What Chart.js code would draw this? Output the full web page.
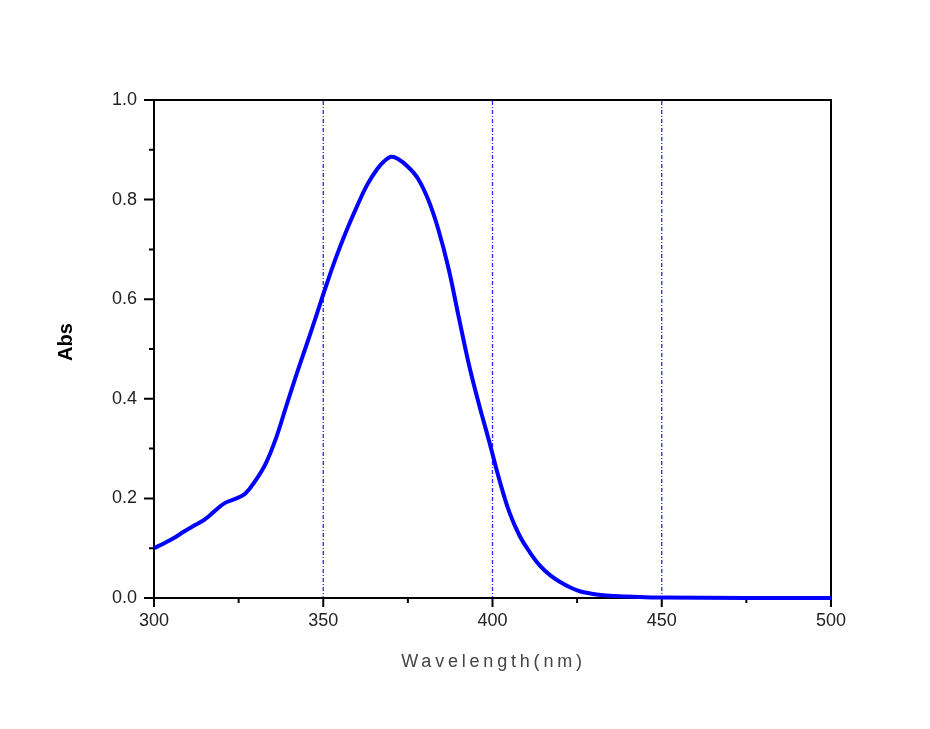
<!DOCTYPE html>
<html>
<head>
<meta charset="utf-8">
<script src="https://cdn.jsdelivr.net/npm/chart.js@4/dist/chart.umd.min.js"></script>
<style>
    html, body { margin: 0; padding: 0; background: #fff; }
    canvas { display: block; }
</style>
</head>
<body>
<canvas id="chart" width="930" height="729"></canvas>
<script>
// spectrum
const wavelengths = [300, 303, 306, 309, 312, 315, 318, 321, 324, 327, 330, 333, 336, 339, 342, 345,
    348, 351, 354, 357, 360, 363, 366, 368, 370, 372, 375, 378, 381, 384, 387, 390, 393, 396, 399,
    402, 405, 408, 411, 414, 417, 420, 423, 426, 429, 432, 436, 440, 450, 475, 500];
const absorbance = [0.100, 0.110, 0.121, 0.134, 0.146, 0.158, 0.175, 0.191, 0.199, 0.210, 0.236, 0.270,
    0.320, 0.384, 0.447, 0.507, 0.568, 0.630, 0.688, 0.740, 0.787, 0.830, 0.862, 0.877, 0.886,
    0.882, 0.866, 0.842, 0.800, 0.740, 0.662, 0.565, 0.470, 0.389, 0.315, 0.238, 0.172, 0.125,
    0.092, 0.065, 0.046, 0.032, 0.021, 0.013, 0.009, 0.006, 0.004, 0.003, 0.001, 0.000, 0.000];
const xMajorTicks = [300, 350, 400, 450, 500];
const xMinorTicks = [325, 375, 425, 475];
const yMajorTicks = [0, 0.2, 0.4, 0.6, 0.8, 1.0];
const yMinorTicks = [0.1, 0.3, 0.5, 0.7, 0.9];
const guideLines = [350, 400, 450];

const FONT = '"Liberation Sans", Arial, sans-serif';

const framePlugin = {
    id: 'frame',
    beforeDatasetsDraw(chart) {
        const { ctx, chartArea: a, scales: { x, y } } = chart;
        ctx.save();

        // box
        ctx.strokeStyle = '#000';
        ctx.lineWidth = 2;
        ctx.strokeRect(a.left, a.top, a.right - a.left, a.bottom - a.top);

        // ticks, outside
        ctx.beginPath();
        xMajorTicks.forEach(v => {
            const px = x.getPixelForValue(v);
            ctx.moveTo(px, a.bottom); ctx.lineTo(px, a.bottom + 9);
        });
        xMinorTicks.forEach(v => {
            const px = x.getPixelForValue(v);
            ctx.moveTo(px, a.bottom); ctx.lineTo(px, a.bottom + 5);
        });
        yMajorTicks.forEach(v => {
            const py = y.getPixelForValue(v);
            ctx.moveTo(a.left, py); ctx.lineTo(a.left - 10, py);
        });
        yMinorTicks.forEach(v => {
            const py = y.getPixelForValue(v);
            ctx.moveTo(a.left, py); ctx.lineTo(a.left - 5, py);
        });
        ctx.stroke();

        // dash-dot guides (left soft, as in the original)
        ctx.strokeStyle = 'rgb(40, 40, 255)';
        ctx.lineWidth = 1.3;
        ctx.setLineDash([4, 2, 1, 2]);
        guideLines.forEach(v => {
            const px = x.getPixelForValue(v);
            ctx.beginPath();
            ctx.moveTo(px, a.top + 1);
            ctx.lineTo(px, a.bottom - 1);
            ctx.stroke();
        });
        ctx.restore();
    },
    afterDraw(chart) {
        const { ctx, chartArea: a } = chart;
        ctx.save();
        // x title, spaced out like the original
        ctx.fillStyle = '#444';
        ctx.font = '18px ' + FONT;
        ctx.letterSpacing = '3.8px';
        ctx.textAlign = 'center';
        ctx.textBaseline = 'middle';
        ctx.fillText('Wavelength(nm)', (a.left + a.right) / 2 + 1, 662);
        ctx.letterSpacing = '0px';

        // y title
        ctx.fillStyle = '#000';
        ctx.font = 'bold 20px ' + FONT;
        ctx.translate(66, 342);
        ctx.rotate(-Math.PI / 2);
        ctx.fillText('Abs', 0, 0);
        ctx.restore();
    }
};

new Chart(document.getElementById('chart'), {
    type: 'line',
    data: {
        datasets: [{
            data: wavelengths.map((w, i) => ({ x: w, y: absorbance[i] })),
            borderColor: '#0000ff',
            borderWidth: 4,
            pointRadius: 0,
            tension: 0.4,
            fill: false,
            clip: false
        }]
    },
    options: {
        responsive: false,
        animation: false,
        layout: { padding: { top: 100, right: 99, left: 0, bottom: 0 } },
        plugins: { legend: { display: false }, tooltip: { enabled: false } },
        scales: {
            x: {
                type: 'linear',
                min: 300,
                max: 500,
                border: { display: false },
                grid: { display: false, drawTicks: false },
                ticks: {
                    stepSize: 50,
                    padding: 12,
                    color: '#222',
                    font: { family: FONT, size: 18 },
                    maxRotation: 0
                },
                afterFit: s => { s.height = 131; }
            },
            y: {
                min: 0,
                max: 1,
                border: { display: false },
                grid: { display: false, drawTicks: false },
                ticks: {
                    stepSize: 0.2,
                    padding: 17,
                    color: '#222',
                    font: { family: FONT, size: 18 },
                    callback: v => v.toFixed(1)
                },
                afterFit: s => { s.width = 154; }
            }
        }
    },
    plugins: [framePlugin]
});
</script>
</body>
</html>
